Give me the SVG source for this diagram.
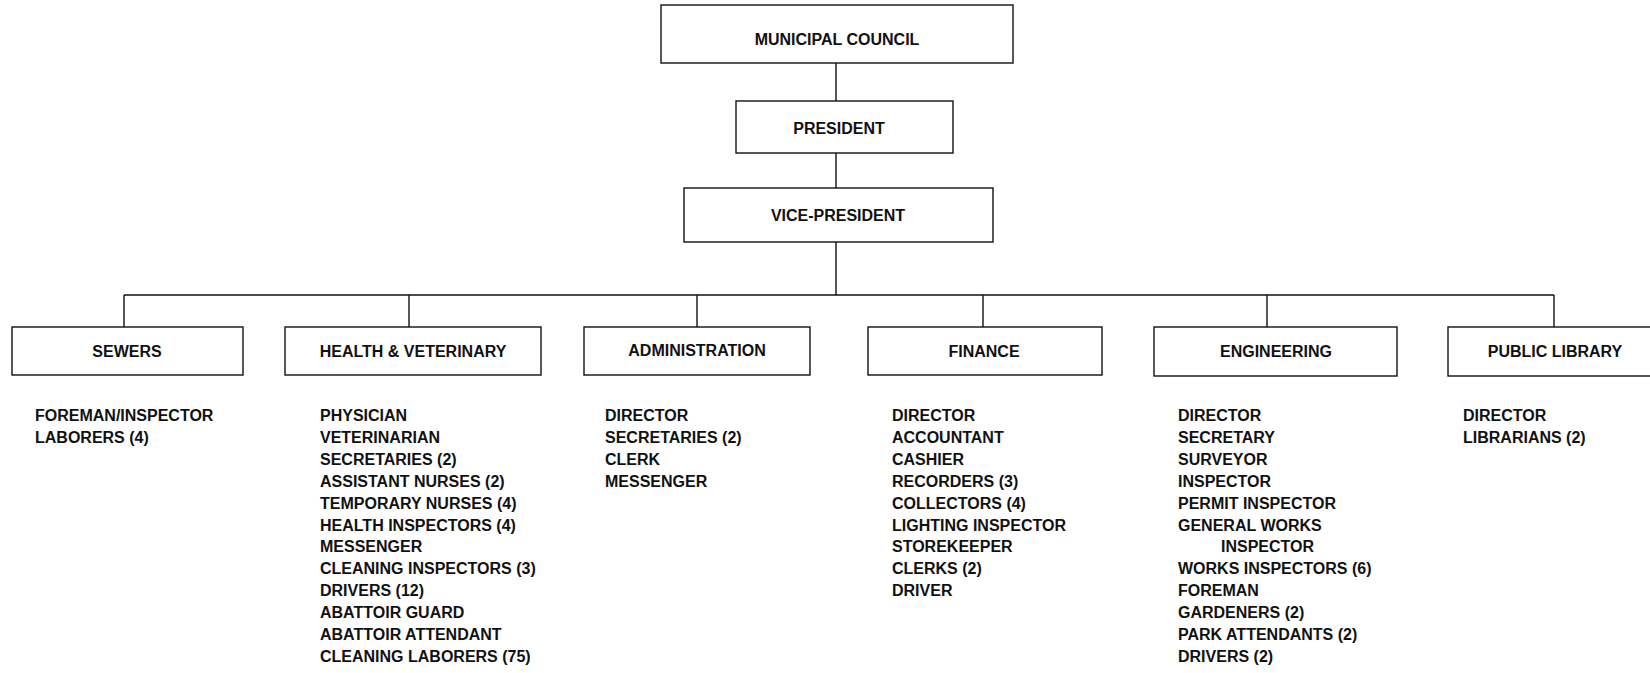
<svg xmlns="http://www.w3.org/2000/svg" width="1650" height="673" viewBox="0 0 1650 673">
<style>
.box{fill:#fff;stroke:#111;stroke-width:1.4}
.conn{fill:none;stroke:#111;stroke-width:1.4}
text{font-family:"Liberation Sans",Arial,sans-serif;font-weight:bold;font-size:16px;fill:#111}
.c{text-anchor:middle}
</style>
<rect width="1650" height="673" fill="#fff"/>
<g id="connectors">
<path class="conn" d="M836,63 V101 M836,153 V188 M836,242 V295 M124,295 H1554 M124,295 V327 M409,295 V327 M697,295 V327 M983,295 V327 M1267,295 V327 M1554,295 V327"/>
</g>
<g id="council"><rect class="box" x="661" y="5" width="352" height="58"/><text class="c" x="837" y="45">MUNICIPAL COUNCIL</text></g>
<g id="president"><rect class="box" x="736" y="101" width="217" height="52"/><text class="c" x="839" y="134">PRESIDENT</text></g>
<g id="vice-president"><rect class="box" x="684" y="188" width="309" height="54"/><text class="c" x="838" y="221">VICE-PRESIDENT</text></g>
<g id="sewers"><rect class="box" x="12" y="327" width="231" height="48"/><text class="c" x="127" y="357">SEWERS</text>
<text x="35"><tspan x="35" y="421">FOREMAN/INSPECTOR</tspan><tspan x="35" y="442.9">LABORERS (4)</tspan></text></g>
<g id="health"><rect class="box" x="285" y="327" width="256" height="48"/><text class="c" x="413" y="357">HEALTH &amp; VETERINARY</text>
<text><tspan x="320" y="421">PHYSICIAN</tspan><tspan x="320" y="442.9">VETERINARIAN</tspan><tspan x="320" y="464.8">SECRETARIES (2)</tspan><tspan x="320" y="486.7">ASSISTANT NURSES (2)</tspan><tspan x="320" y="508.6">TEMPORARY NURSES (4)</tspan><tspan x="320" y="530.5">HEALTH INSPECTORS (4)</tspan><tspan x="320" y="552.4">MESSENGER</tspan><tspan x="320" y="574.3">CLEANING INSPECTORS (3)</tspan><tspan x="320" y="596.2">DRIVERS (12)</tspan><tspan x="320" y="618.1">ABATTOIR GUARD</tspan><tspan x="320" y="640">ABATTOIR ATTENDANT</tspan><tspan x="320" y="661.9">CLEANING LABORERS (75)</tspan></text></g>
<g id="administration"><rect class="box" x="584" y="327" width="226" height="48"/><text class="c" x="697" y="356">ADMINISTRATION</text>
<text><tspan x="605" y="421">DIRECTOR</tspan><tspan x="605" y="442.9">SECRETARIES (2)</tspan><tspan x="605" y="464.8">CLERK</tspan><tspan x="605" y="486.7">MESSENGER</tspan></text></g>
<g id="finance"><rect class="box" x="868" y="327" width="234" height="48"/><text class="c" x="984" y="357">FINANCE</text>
<text><tspan x="892" y="421">DIRECTOR</tspan><tspan x="892" y="442.9">ACCOUNTANT</tspan><tspan x="892" y="464.8">CASHIER</tspan><tspan x="892" y="486.7">RECORDERS (3)</tspan><tspan x="892" y="508.6">COLLECTORS (4)</tspan><tspan x="892" y="530.5">LIGHTING INSPECTOR</tspan><tspan x="892" y="552.4">STOREKEEPER</tspan><tspan x="892" y="574.3">CLERKS (2)</tspan><tspan x="892" y="596.2">DRIVER</tspan></text></g>
<g id="engineering"><rect class="box" x="1154" y="327" width="243" height="49"/><text class="c" x="1276" y="357">ENGINEERING</text>
<text><tspan x="1178" y="421">DIRECTOR</tspan><tspan x="1178" y="442.9">SECRETARY</tspan><tspan x="1178" y="464.8">SURVEYOR</tspan><tspan x="1178" y="486.7">INSPECTOR</tspan><tspan x="1178" y="508.6">PERMIT INSPECTOR</tspan><tspan x="1178" y="530.5">GENERAL WORKS</tspan><tspan x="1221" y="552.4">INSPECTOR</tspan><tspan x="1178" y="574.3">WORKS INSPECTORS (6)</tspan><tspan x="1178" y="596.2">FOREMAN</tspan><tspan x="1178" y="618.1">GARDENERS (2)</tspan><tspan x="1178" y="640">PARK ATTENDANTS (2)</tspan><tspan x="1178" y="661.9">DRIVERS (2)</tspan></text></g>
<g id="public-library"><rect class="box" x="1448" y="327" width="210" height="49"/><text class="c" x="1555" y="357">PUBLIC LIBRARY</text>
<text><tspan x="1463" y="421">DIRECTOR</tspan><tspan x="1463" y="442.9">LIBRARIANS (2)</tspan></text></g>
</svg>
